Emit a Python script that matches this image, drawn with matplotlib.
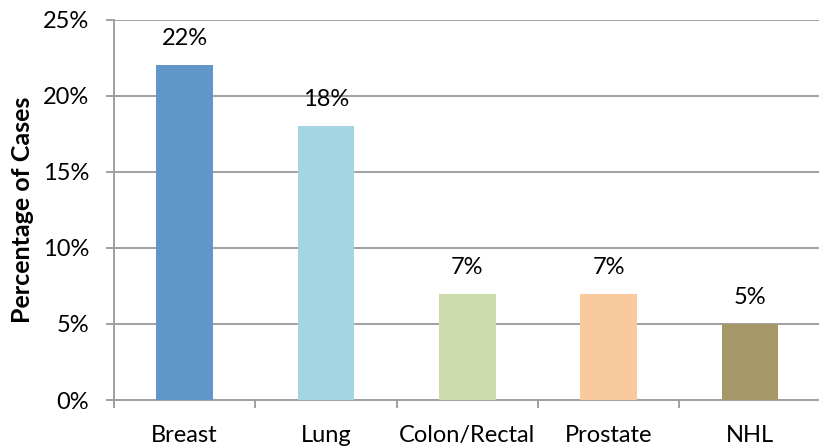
import matplotlib.pyplot as plt
from matplotlib.ticker import FixedLocator, PercentFormatter

# Share of cases by cancer type
categories = ['Breast', 'Lung', 'Colon/Rectal', 'Prostate', 'NHL']
percentages = [22, 18, 7, 7, 5]
bar_colors = ['#6196C8', '#A3D5E3', '#CDDCAC', '#FACA9F', '#A59767']

plt.rcParams['font.family'] = ['Lato', 'DejaVu Sans']

fig = plt.figure(figsize=(8.2, 4.46), dpi=100)
ax = fig.add_axes([0.139, 0.103, 0.862, 0.853])

x = list(range(len(categories)))
ax.bar(x, percentages, width=0.4, color=bar_colors, zorder=3)

for xi, val in zip(x, percentages):
    ax.annotate(f'{val}%', (xi, val), xytext=(0, 19), textcoords='offset points',
                ha='center', va='center', fontsize=17)

ax.set_xlim(-0.5, len(categories) - 0.5)
ax.set_ylim(0, 25)
ax.set_yticks(range(0, 26, 5))
ax.yaxis.set_major_formatter(PercentFormatter(decimals=0))
ax.set_xticks(x)
ax.set_xticklabels(categories)
ax.xaxis.set_minor_locator(FixedLocator([i - 0.5 for i in range(len(categories) + 1)]))

ax.grid(axis='y', color='#A0A0A0', linewidth=1.4, zorder=0)
for side in ['top', 'right']:
    ax.spines[side].set_visible(False)
ax.spines['left'].set_color('#A0A0A0')
ax.spines['bottom'].set_color('#A0A0A0')
ax.spines['left'].set_linewidth(1.4)
ax.spines['bottom'].set_linewidth(1.4)

ax.tick_params(axis='x', which='major', length=0, pad=18, labelsize=17)
ax.tick_params(axis='x', which='minor', length=6, width=1.4, color='#A0A0A0')
ax.tick_params(axis='y', length=6, width=1.4, color='#A0A0A0', labelsize=17, pad=12)

ax.set_ylabel('Percentage of Cases', fontsize=18, fontweight='bold', labelpad=6)

fig.savefig('out.png', dpi=100)
